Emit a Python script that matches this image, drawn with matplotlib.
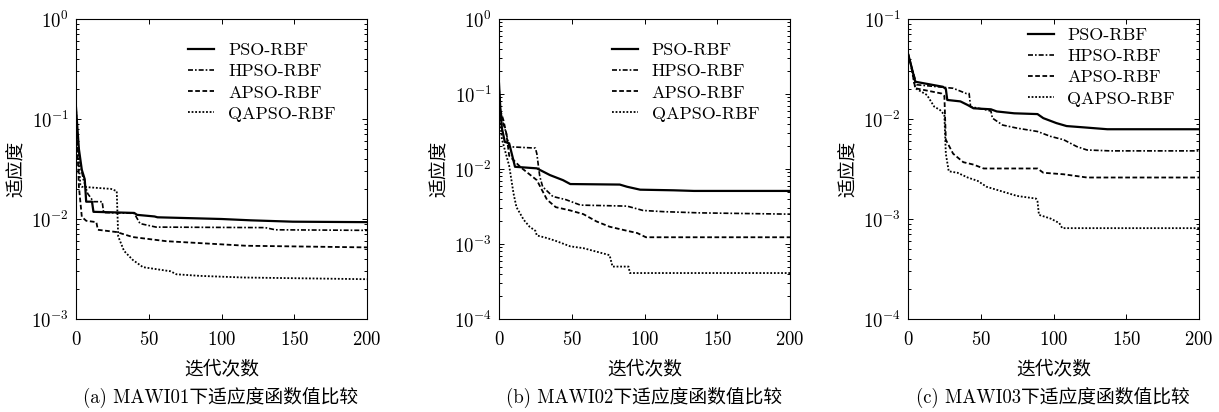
import matplotlib
matplotlib.use("Agg")
import matplotlib.pyplot as plt

plt.rcParams['font.family'] = ['cmr10', 'Noto Sans CJK SC']
plt.rcParams['mathtext.fontset'] = 'cm'
plt.rcParams['axes.formatter.use_mathtext'] = True
plt.rcParams['axes.unicode_minus'] = False
plt.rcParams['axes.linewidth'] = 0.8

LABELS = ['PSO-RBF', 'HPSO-RBF', 'APSO-RBF', 'QAPSO-RBF']
DASHES = [None, (3, 1.2, 1, 1.2), (2.6, 1.4), (1, 1)]
WIDTHS = [1.6, 1.2, 1.3, 1.3]

# (a) MAWI01 -- breakpoints (iteration, fitness)
A_PSO_X = [0, 1, 2, 4, 6, 7, 11, 12, 40, 42, 54, 56, 100, 120, 149, 200]
A_PSO_Y = [0.13, 0.08, 0.05, 0.031, 0.025, 0.0149, 0.0149, 0.0118, 0.0115, 0.011, 0.0106, 0.0104, 0.0100, 0.0097, 0.0094, 0.0093]
A_HPSO_X = [0, 1, 3, 5, 8, 12, 18, 19, 40, 44, 55, 130, 137, 200]
A_HPSO_Y = [0.10, 0.06, 0.035, 0.025, 0.018, 0.0149, 0.0149, 0.0116, 0.0114, 0.0090, 0.0083, 0.0082, 0.0078, 0.0077]
A_APSO_X = [0, 1, 2, 4, 7, 14, 15, 28, 39, 62, 117, 200]
A_APSO_Y = [0.12, 0.05, 0.021, 0.0105, 0.0096, 0.0093, 0.0078, 0.0074, 0.0066, 0.0060, 0.0054, 0.0052]
A_QAPSO_X = [0, 1, 2, 3, 4, 24, 28, 29, 33, 39, 46, 65, 69, 85, 115, 200]
A_QAPSO_Y = [0.13, 0.06, 0.035, 0.022, 0.021, 0.020, 0.019, 0.0067, 0.0048, 0.0039, 0.0033, 0.0030, 0.0028, 0.0027, 0.0026, 0.0025]

# (b) MAWI02
B_PSO_X = [0, 1, 2, 4, 7, 11, 26, 35, 44, 49, 83, 88, 97, 120, 134, 200]
B_PSO_Y = [0.138, 0.06, 0.035, 0.023, 0.022, 0.0107, 0.0102, 0.0083, 0.0071, 0.0063, 0.0062, 0.0058, 0.0053, 0.0052, 0.0051, 0.0051]
B_HPSO_X = [0, 1, 3, 5, 7, 25, 26, 28, 30, 37, 46, 56, 88, 99, 113, 138, 200]
B_HPSO_Y = [0.11, 0.06, 0.04, 0.03, 0.0198, 0.019, 0.016, 0.0080, 0.0058, 0.0043, 0.0039, 0.0033, 0.0032, 0.0028, 0.0027, 0.0026, 0.0025]
B_APSO_X = [0, 1, 3, 5, 7, 15, 26, 33, 39, 49, 58, 67, 76, 88, 95, 101, 200]
B_APSO_Y = [0.12, 0.06, 0.045, 0.030, 0.015, 0.0105, 0.0071, 0.0039, 0.0031, 0.0028, 0.0025, 0.0020, 0.0017, 0.0015, 0.0014, 0.00123, 0.00123]
B_QAPSO_X = [0, 1, 2, 4, 7, 10, 12, 17, 21, 25, 26, 33, 39, 49, 58, 66, 76, 78, 89, 90, 200]
B_QAPSO_Y = [0.10, 0.04, 0.025, 0.018, 0.011, 0.0047, 0.0031, 0.0021, 0.0017, 0.0015, 0.0013, 0.0012, 0.0011, 0.00093, 0.00088, 0.00080, 0.00071, 0.00050, 0.00050, 0.00041, 0.00041]

# (c) MAWI03
C_PSO_X = [0, 2, 5, 24, 26, 27, 36, 41, 45, 57, 61, 73, 89, 93, 102, 109, 123, 137, 200]
C_PSO_Y = [0.045, 0.035, 0.0236, 0.021, 0.020, 0.0155, 0.0150, 0.0138, 0.0128, 0.0125, 0.0119, 0.0114, 0.0112, 0.0102, 0.0091, 0.0085, 0.0082, 0.0079, 0.0079]
C_HPSO_X = [0, 2, 6, 31, 40, 42, 43, 54, 57, 58, 65, 75, 89, 98, 107, 116, 123, 139, 200]
C_HPSO_Y = [0.045, 0.035, 0.022, 0.0203, 0.018, 0.018, 0.0133, 0.0123, 0.0120, 0.0102, 0.0087, 0.0081, 0.0075, 0.0067, 0.0062, 0.0053, 0.0049, 0.0048, 0.0048]
C_APSO_X = [0, 2, 5, 23, 25, 26, 31, 38, 45, 52, 89, 93, 107, 123, 200]
C_APSO_Y = [0.045, 0.035, 0.0203, 0.018, 0.017, 0.0062, 0.0045, 0.0037, 0.0035, 0.0032, 0.0032, 0.0029, 0.0028, 0.0026, 0.0026]
C_QAPSO_X = [0, 2, 5, 13, 18, 22, 25, 26, 28, 34, 41, 48, 54, 64, 75, 88, 89, 90, 98, 104, 106, 200]
C_QAPSO_Y = [0.045, 0.035, 0.0203, 0.0174, 0.0133, 0.0123, 0.011, 0.0045, 0.0030, 0.0029, 0.0026, 0.0024, 0.0021, 0.0019, 0.0017, 0.0016, 0.0015, 0.0011, 0.00101, 0.00091, 0.00081, 0.00081]

PANELS = [
    ([(A_PSO_X, A_PSO_Y), (A_HPSO_X, A_HPSO_Y), (A_APSO_X, A_APSO_Y), (A_QAPSO_X, A_QAPSO_Y)],
     (1e-3, 1), '(a) MAWI01下适应度函数值比较'),
    ([(B_PSO_X, B_PSO_Y), (B_HPSO_X, B_HPSO_Y), (B_APSO_X, B_APSO_Y), (B_QAPSO_X, B_QAPSO_Y)],
     (1e-4, 1), '(b) MAWI02下适应度函数值比较'),
    ([(C_PSO_X, C_PSO_Y), (C_HPSO_X, C_HPSO_Y), (C_APSO_X, C_APSO_Y), (C_QAPSO_X, C_QAPSO_Y)],
     (1e-4, 1e-1), '(c) MAWI03下适应度函数值比较'),
]

W, H = 1219, 412
LEFTS = [76, 499, 908]
LEGEND_X = [0.33, 0.332, 0.355]
LEGEND_TOP = [0.975, 0.975, 1.025]

fig = plt.figure(figsize=(W / 100, H / 100), dpi=100)

for i, (series, ylim, caption) in enumerate(PANELS):
    ax = fig.add_axes([LEFTS[i] / W, (H - 319) / H, 291 / W, 300 / H])
    for (xs, ys), lab, ds, lw in zip(series, LABELS, DASHES, WIDTHS):
        line, = ax.plot(xs, ys, '-', color='black', lw=lw, label=lab)
        if ds is not None:
            line.set_dashes(ds)
    ax.set_yscale('log')
    ax.set_ylim(*ylim)
    ax.set_xlim(0, 200)
    ax.set_xticks([0, 50, 100, 150, 200])
    ax.tick_params(which='both', direction='in', top=True, right=True, labelsize=13.5, width=0.7)
    ax.tick_params(which='major', length=3.5)
    ax.tick_params(which='minor', length=2)
    ax.tick_params(axis='x', pad=8.5)
    ax.tick_params(axis='y', pad=5)
    ax.set_xlabel('迭代次数', fontsize=13.5, labelpad=9)
    ax.set_ylabel('适应度', fontsize=13.5, labelpad=4)
    ax.legend(loc='upper left', bbox_to_anchor=(LEGEND_X[i], LEGEND_TOP[i]), frameon=False,
              fontsize=13, handlelength=1.45, handletextpad=0.75, labelspacing=0.3)
    fig.text((LEFTS[i] + 145) / W, (H - 397) / H, caption, ha='center', va='center', fontsize=13.5)

fig.savefig('out.png', dpi=100)
